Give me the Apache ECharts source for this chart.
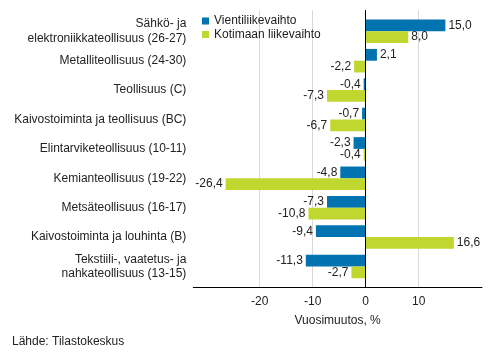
<!DOCTYPE html>
<html>
<head>
<meta charset="utf-8">
<script src="https://cdn.jsdelivr.net/npm/echarts@6/dist/echarts.min.js"></script>
<style>html,body{margin:0;padding:0;background:#fff;}#c{width:493px;height:360px;}</style>
</head>
<body>
<div id="c"></div>
<script>
const categories = [
  "Sähkö- ja\nelektroniikkateollisuus (26-27)",
  "Metalliteollisuus (24-30)",
  "Teollisuus (C)",
  "Kaivostoiminta ja teollisuus (BC)",
  "Elintarviketeollisuus (10-11)",
  "Kemianteollisuus (19-22)",
  "Metsäteollisuus (16-17)",
  "Kaivostoiminta ja louhinta (B)",
  "Tekstiili-, vaatetus- ja\nnahkateollisuus (13-15)"
];
const seriesNames = ["Vientiliikevaihto", "Kotimaan liikevaihto"];
const vienti = [15.0, 2.1, -0.4, -0.7, -2.3, -4.8, -7.3, -9.4, -11.3];
const kotimaa = [8.0, -2.2, -7.3, -6.7, -0.4, -26.4, -10.8, 16.6, -2.7];
const tickMin = -20, tickMax = 10, tickStep = 10;
const axisMin = -32.5, axisMax = 21.9;
const colors = ["#0073b0", "#c0d72f"];

const fmt = v => v.toFixed(1).replace('.', ',');
const toItems = arr => arr.map(v => ({
  value: v,
  label: { position: v < 0 ? 'left' : 'right' }
}));

const chart = echarts.init(document.getElementById('c'), null, { renderer: 'canvas' });
const font = 'Liberation Sans, Arial, sans-serif';
chart.setOption({
  animation: false,
  textStyle: { fontFamily: font },
  color: colors,
  legend: {
    orient: 'vertical',
    left: 202, top: 15,
    padding: 0,
    itemGap: 1.5,
    itemWidth: 7, itemHeight: 7,
    icon: 'rect',
    textStyle: { fontSize: 12, color: '#222', fontFamily: font },
    data: seriesNames
  },
  title: {
    text: 'Lähde: Tilastokeskus',
    left: 12, top: 336, padding: 0,
    textStyle: { fontSize: 12, fontWeight: 'normal', color: '#222', fontFamily: font }
  },
  grid: [
    { left: 193.3, right: 11, top: 16.6, bottom: 78.8 },
    { left: 259.7, width: 159, top: 10.5, bottom: 73 }
  ],
  xAxis: [
    {
      gridIndex: 0, type: 'value', min: axisMin, max: axisMax,
      offset: 6,
      axisLine: { show: true, lineStyle: { color: '#000', width: 1 } },
      axisTick: { show: false }, axisLabel: { show: false }, splitLine: { show: false },
      name: 'Vuosimuutos, %', nameLocation: 'middle', nameGap: 27.5,
      nameTextStyle: { fontSize: 12, color: '#222', fontFamily: font }
    },
    {
      gridIndex: 1, type: 'value', min: tickMin, max: tickMax, interval: tickStep,
      axisLine: { show: false }, axisTick: { show: false },
      axisLabel: { show: true, margin: 8.5, fontSize: 12, color: '#222', fontFamily: font },
      splitLine: { show: true, lineStyle: { color: '#d9d9d9', width: 1 } }
    }
  ],
  yAxis: [
    {
      gridIndex: 0, type: 'category', data: categories, inverse: true,
      axisLine: { show: false }, axisTick: { show: false },
      axisLabel: { margin: 7, fontSize: 12, color: '#222', lineHeight: 14.5, fontFamily: font }
    },
    {
      gridIndex: 1, type: 'value', min: 0, max: 1, z: 10,
      axisLine: { show: true, onZero: true, lineStyle: { color: '#000', width: 1 } },
      axisTick: { show: false }, axisLabel: { show: false }, splitLine: { show: false }
    }
  ],
  series: [
    {
      name: seriesNames[0], type: 'bar', xAxisIndex: 0, yAxisIndex: 0,
      data: toItems(vienti), barGap: '0%', barCategoryGap: '20%',
      label: { show: true, distance: 3, fontSize: 12, color: '#222', fontFamily: font, formatter: p => fmt(p.value) }
    },
    {
      name: seriesNames[1], type: 'bar', xAxisIndex: 0, yAxisIndex: 0,
      data: toItems(kotimaa), barGap: '0%', barCategoryGap: '20%',
      label: { show: true, distance: 3, fontSize: 12, color: '#222', fontFamily: font, formatter: p => fmt(p.value) }
    }
  ]
});
</script>
</body>
</html>
